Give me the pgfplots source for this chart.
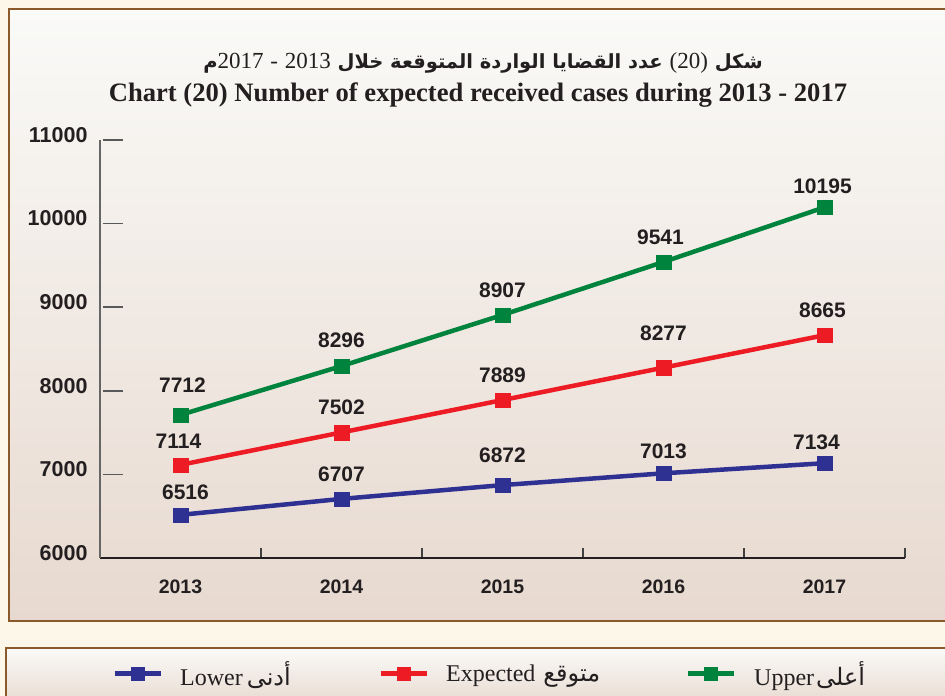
\documentclass[border=0pt]{standalone}
\usepackage{fontspec}
\setmainfont{Liberation Serif}
\newfontfamily\numfont{Liberation Sans}
\newfontfamily\arabicfont[Script=Arabic]{DejaVu Sans}
\usepackage{pgfplots}
\pgfplotsset{compat=1.18}
\usepackage{pgfplotstable}
\TeXXeTstate=1

\definecolor{cream}{HTML}{FDF7EA}
\definecolor{framebrown}{HTML}{8B5A2B}
\definecolor{gtop}{HTML}{FAFAF8}
\definecolor{gbot}{HTML}{E7D9CF}
\definecolor{cgreen}{HTML}{00843D}
\definecolor{cred}{HTML}{ED1C24}
\definecolor{cblue}{HTML}{2E3192}
\definecolor{txt}{HTML}{231F20}

\pgfplotstableread{
x y dx dy
0 6516 5 15.5
1 6707 0 17.5
2 6872 0 22.5
3 7013 0 14.5
4 7134 -8 13.5
}\tabLower

\pgfplotstableread{
x y dx dy
0 7114 -2 16.5
1 7502 0 17.5
2 7889 0 17.5
3 8277 0 26.5
4 8665 -2 17.5
}\tabExpected

\pgfplotstableread{
x y dx dy
0 7712 2 22.5
1 8296 0 18.5
2 8907 0 17.5
3 9541 -3 17.5
4 10195 -2 13.5
}\tabUpper

\newcommand\serifnum[1]{{\normalfont\fontsize{23}{25}\selectfont\beginL #1\endL}}

\begin{document}
\begin{tikzpicture}[x=1pt,y=1pt]
\useasboundingbox (0,0) rectangle (945,696);
\clip (0,0) rectangle (945,696);
\fill[cream] (0,0) rectangle (945,696);
\shade[top color=gtop, bottom color=gbot] (9,75) rectangle (960,687);
\draw[framebrown, line width=2.5pt] (9,75) rectangle (960,687);
\shade[top color=gtop, bottom color=gbot] (6,-10) rectangle (960,48);
\draw[framebrown, line width=2.5pt] (6,-10) rectangle (960,48);

\node[text=txt, font=\arabicfont\bfseries\fontsize{19.5}{24}\selectfont] at (483,633)
 {\beginR شكل \serifnum{(20)} عدد القضايا الواردة المتوقعة خلال \serifnum{2013} \serifnum{-} \serifnum{2017}م\endR};
\node[text=txt, font=\bfseries\fontsize{26.6}{30}\selectfont] at (478,601)
 {Chart (20) Number of expected received cases during 2013 - 2017};

\begin{axis}[
 at={(100pt,138pt)}, anchor=south west, scale only axis,
 width=805pt, height=418pt,
 xmin=-0.5, xmax=4.5, ymin=6000, ymax=11000,
 axis lines=left, axis line style={-},
 x axis line style={draw=txt, line width=1.8pt},
 y axis line style={draw=black!60, line width=1.5pt},
 clip=false,
 tick align=inside,
 major tick length=20pt,
 scaled y ticks=false,
 ytick={6000,7000,...,11000},
 ytick style={draw=black!65, line width=1.6pt, xshift=3pt},
 xtick={0.5,1.5,2.5,3.5,4.5}, xticklabels={},
 xtick style={draw=black!75, line width=1.2pt, /pgfplots/major tick length=10pt},
 extra x ticks={0,1,2,3,4},
 extra x tick labels={2013,2014,2015,2016,2017},
 extra x tick style={xtick style={draw=none}, major tick length=0pt},
 /pgf/number format/1000 sep={},
 /pgf/number format/assume math mode=true,
 yticklabel style={font=\numfont\bfseries\fontsize{21.5}{21}\selectfont, text=txt, xshift=-9pt, yshift=5pt},
 xticklabel style={font=\numfont\bfseries\fontsize{19.5}{19}\selectfont, text=txt, yshift=-18pt},
 visualization depends on={\thisrow{dx}\as\mydx},
 visualization depends on={\thisrow{dy}\as\mydy},
 nodes near coords,
 every node near coord/.append style={font=\numfont\bfseries\fontsize{21}{21}\selectfont, text=txt, anchor=south, inner sep=0pt, xshift=\mydx*1pt, yshift=\mydy*1pt},
 legend columns=3,
 legend style={at={(0.0149,-0.2775)}, anchor=west, draw=none, fill=none, inner sep=0pt, column sep=0pt, nodes={inner sep=0pt}, font=\fontsize{24}{24}\selectfont, text=txt},
 legend cell align=left,
 legend image code/.code={\draw[#1, mark repeat=2, mark phase=2] plot coordinates {(0pt,0pt) (23pt,0pt) (46pt,0pt)};},
 legend image post style={mark size=6.5pt, line width=5pt},
]
\addplot[cblue, line width=4.5pt, mark=square*, mark size=7.2pt, mark options={line width=0.1pt}] table[x=x,y=y]{\tabLower};
\addlegendentry{\makebox[215pt][l]{\hspace*{17pt}Lower\hspace{4pt}{\arabicfont\beginR أدنى\endR}}}
\addplot[cred, line width=4.5pt, mark=square*, mark size=7.2pt, mark options={line width=0.1pt}] table[x=x,y=y]{\tabExpected};
\addlegendentry{\makebox[256pt][l]{\hspace*{17pt}Expected\hspace{8pt}{\arabicfont\beginR متوقع\endR}}}
\addplot[cgreen, line width=4.5pt, mark=square*, mark size=7.2pt, mark options={line width=0.1pt}] table[x=x,y=y]{\tabUpper};
\addlegendentry{\makebox[150pt][l]{\hspace*{18pt}Upper\hspace{2pt}{\arabicfont\beginR أعلى\endR}}}
\end{axis}
\end{tikzpicture}
\end{document}
